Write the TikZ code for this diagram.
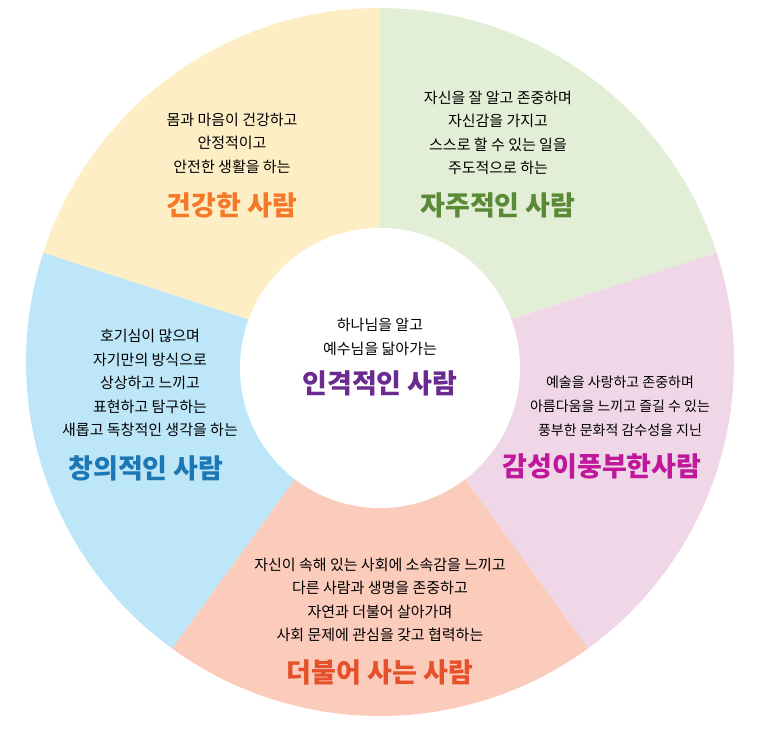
\documentclass[tikz,border=0pt]{standalone}
\usepackage{fontspec}
\setmainfont{Noto Sans CJK KR}
\definecolor{secgreen}{HTML}{E3EED6}
\definecolor{secpink}{HTML}{EFD7E8}
\definecolor{secred}{HTML}{FBCBBB}
\definecolor{secblue}{HTML}{BEE6F9}
\definecolor{secyellow}{HTML}{FDEEC6}
\definecolor{tgreen}{HTML}{5A8A35}
\definecolor{tpink}{HTML}{C0179B}
\definecolor{tred}{HTML}{E5512A}
\definecolor{tblue}{HTML}{1C78B4}
\definecolor{torange}{HTML}{F47A2A}
\definecolor{tpurple}{HTML}{6A2A8F}
\tikzset{
  body/.style={align=center,font=\fontsize{15}{23.5}\selectfont,inner sep=0pt},
  title/.style={font=\fontsize{27}{30}\selectfont\bfseries,inner sep=0pt}
}
\begin{document}
\begin{tikzpicture}[x=1pt,y=-1pt]
\useasboundingbox (0,0) rectangle (761,750);
\def\R{354} \def\r{140}
\coordinate (o) at (380,362);
% sectors
\foreach \a/\c in {18/secgreen,-54/secpink,-126/secred,162/secblue,90/secyellow}{
  \fill[\c] (o) -- ++({cos(\a)*\R},{-sin(\a)*\R}) arc[start angle=-\a,delta angle=-72,radius=\R] -- cycle;
}
\fill[white] (380,368) circle (\r);
% texts
\node[body] (g) at (498,133) {자신을 잘 알고 존중하며\\자신감을 가지고\\스스로 할 수 있는 일을\\주도적으로 하는};
\node[title,text=tgreen] (gt) at (498,205) {자주적인 사람};
\node[body] (y) at (232,143) {몸과 마음이 건강하고\\안정적이고\\안전한 생활을 하는};
\node[title,text=torange] (yt) at (232,205) {건강한 사람};
\node[body] (b) at (150,383) {호기심이 많으며\\자기만의 방식으로\\상상하고 느끼고\\표현하고 탐구하는\\새롭고 독창적인 생각을 하는};
\node[title,text=tblue] (bt) at (146,468) {창의적인 사람};
\node[body,font=\fontsize{14}{24}\selectfont] (p) at (620,406) {예술을 사랑하고 존중하며\\아름다움을 느끼고 즐길 수 있는\\풍부한 문화적 감수성을 지닌};
\node[title,text=tpink] (pt) at (602,466) {감성이풍부한사람};
\node[body] (r) at (380,600) {자신이 속해 있는 사회에 소속감을 느끼고\\다른 사람과 생명을 존중하고\\자연과 더불어 살아가며\\사회 문제에 관심을 갖고 협력하는};
\node[title,text=tred] (rt) at (380,672) {더불어 사는 사람};
\node[body] (c) at (380,337) {하나님을 알고\\예수님을 닮아가는};
\node[title,text=tpurple] (ct) at (380,383) {인격적인 사람};
\end{tikzpicture}
\end{document}
